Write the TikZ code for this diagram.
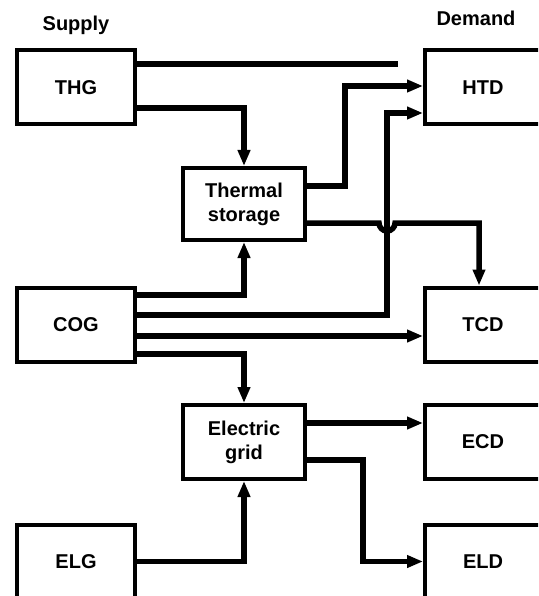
\documentclass[tikz,border=0pt]{standalone}
\usepackage{fontspec}
\setmainfont{Liberation Sans}
\usepackage{tikz}
\usetikzlibrary{positioning, arrows.meta}

\begin{document}
\begin{tikzpicture}[
  x=1pt, y=-1pt,
  >={Triangle[length=16pt,width=12pt]},
  font=\fontsize{20}{24}\selectfont\bfseries
]
\tikzstyle{box}=[draw=black, line width=4pt, outer sep=0pt, minimum width=118pt, minimum height=74pt, inner sep=2pt, align=center]
\tikzstyle{midbox}=[box, minimum width=122pt]
\tikzstyle{dembox}=[box, minimum width=116pt]
\tikzstyle{flow}=[line width=5.5pt, ->, shorten >=2pt]

\useasboundingbox (0,0) rectangle (538,596);
\clip (0,0) rectangle (538,596);

% ================= HEADINGS =================
\node (supply) at (76,25) {Supply};
\node (demand) at (476,18) {Demand};

% ================= SUPPLY =================
\node[box] (thg) at (76,87.5) {THG};
\node[box] (cog) [below=163pt of thg] {COG};
\node[box] (elg) [below=163pt of cog] {ELG};

% ================= STORAGE AND GRID =================
\node[midbox, minimum height=72pt] (stor) [below right=43.5pt and 48pt of thg] {Thermal\\storage};
\node[midbox] (grid) [below=165pt of stor] {Electric\\grid};

% ================= DEMAND =================
\node[dembox] (htd) [right=290pt of thg] {HTD};
\node[dembox] (tcd) [right=290pt of cog] {TCD};
\node[dembox] (ecd) [right=120pt of grid] {ECD};
\node[dembox] (eld) [right=290pt of elg] {ELD};

% ===== THG =====
\coordinate (hend) at (398,64);
\draw[line width=6pt] (hend -| thg.east) -- (hend);
\draw[flow] ([yshift=-20.5pt]thg.east) -| (stor.north);

% ===== Thermal storage =====
\draw[flow] ([yshift=18pt]stor.east) -- ++(40,0) |- ([yshift=1.5pt]htd.west);
\draw[flow] ([yshift=-19pt]stor.east) -- ++(74,0)
  arc[start angle=180, end angle=0, radius=8] -| ([xshift=-4pt]tcd.north);

% ===== COG =====
\draw[flow] ([yshift=29.5pt]cog.east) -| (stor.south);
\draw[flow] ([yshift=9.5pt]cog.east) -- ++(252,0) |- ([yshift=-25.5pt]htd.west);
\draw[flow] ([yshift=-11.5pt]cog.east) -- ([yshift=-11.5pt]tcd.west);
\draw[flow] ([yshift=-29.5pt]cog.east) -| (grid.north);

% ===== Electric grid =====
\draw[flow] ([yshift=19pt]grid.east) coordinate (g1) -- (g1 -| ecd.west);
\draw[flow] ([yshift=-18pt]grid.east) -- ++(58,0) |- (eld.west);
\draw[flow] (elg.east) -| (grid.south);
\end{tikzpicture}
\end{document}
